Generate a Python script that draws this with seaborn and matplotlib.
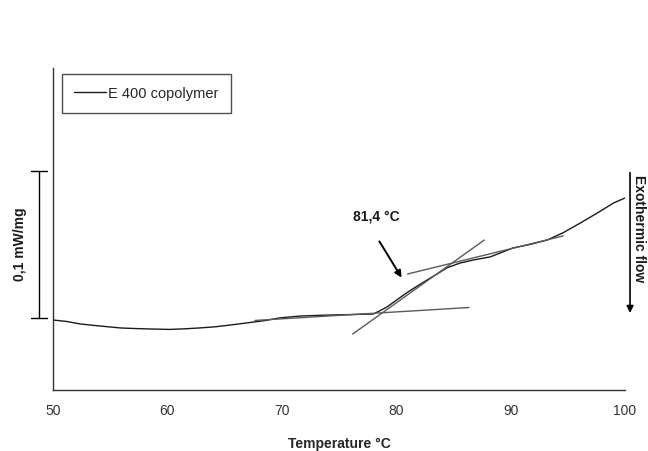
import numpy as np
import pandas as pd
import matplotlib
matplotlib.use("Agg")
import matplotlib.pyplot as plt
import seaborn as sns

# DSC trace of the E 400 copolymer (heat flow in mW/mg, arbitrary baseline)
temperature = [50.0, 51.2, 52.4, 54.0, 55.9, 57.2, 58.5, 60.2, 61.5, 62.8, 64.2,
               65.5, 67.2, 68.5, 69.8, 71.6, 73.0, 74.2, 76.0, 78.0, 78.6, 79.2,
               80.0, 80.9, 81.8, 82.7, 83.6, 84.4, 85.6, 86.8, 88.2, 89.2, 90.2,
               91.7, 93.2, 94.6, 96.1, 97.5, 99.0, 100.0]
heat_flow = [0.0476, 0.0466, 0.0449, 0.0436, 0.0422, 0.0418, 0.0415, 0.0412, 0.0416,
             0.0422, 0.0430, 0.0442, 0.0459, 0.0472, 0.0490, 0.0503, 0.0507, 0.0510,
             0.0513, 0.0517, 0.0540, 0.0565, 0.0610, 0.0660, 0.0705, 0.0748, 0.0790,
             0.0830, 0.0864, 0.0885, 0.0905, 0.0935, 0.0966, 0.0990, 0.1020, 0.1070,
             0.1136, 0.1200, 0.1272, 0.1306]

# Tangent construction lines (start / end points)
tangent_t = [[67.66, 86.36], [76.2, 87.7], [81.0, 94.6]]
tangent_q = [[0.0473, 0.0561], [0.0381, 0.1020], [0.0789, 0.1048]]

onset_label = "81,4 °C"
series_name = "E 400 copolymer"
scale_bar = 0.1  # mW/mg

df = pd.DataFrame({"Temperature": temperature, "Heat flow": heat_flow,
                   "Sample": series_name})

sns.set_theme(style="white")
plt.rcParams["font.family"] = ["Liberation Sans", "DejaVu Sans"]

fig = plt.figure(figsize=(6.48, 4.51), dpi=100)
ax = fig.add_axes([53 / 648, 1 - 390 / 451, 572 / 648, 322 / 451])

sns.lineplot(data=df, x="Temperature", y="Heat flow", hue="Sample",
             palette=["#1a1a1a"], linewidth=1.0, ax=ax, sort=False)

for ts, qs in zip(tangent_t, tangent_q):
    ax.plot(ts, qs, color="#5a5a5a", linewidth=1.0)

ax.set_xlim(50, 100)
ax.set_ylim(0, 0.219)
ax.set_xticks([50, 60, 70, 80, 90, 100])
ax.set_yticks([])
ax.tick_params(axis="x", direction="in", length=4, width=1, colors="#333333",
               labelsize=10, pad=10)
for side in ["top", "right"]:
    ax.spines[side].set_visible(False)
for side in ["left", "bottom"]:
    ax.spines[side].set_color("#333333")
    ax.spines[side].set_linewidth(1.0)

ax.set_xlabel("Temperature °C", fontsize=10, fontweight="bold", labelpad=14)
ax.set_ylabel("")

# onset annotation
ax.annotate("", xy=(80.6, 0.0748), xytext=(78.4, 0.1027),
            arrowprops=dict(arrowstyle="-|>", color="black", lw=1.4,
                            mutation_scale=10))
ax.text(78.3, 0.1177, onset_label, ha="center", va="center", fontsize=10,
        fontweight="bold", color="#1a1a1a")

# heat-flow scale bar on the left
bar_x, bar_lo = 48.78, 0.0490
ax.plot([bar_x, bar_x], [bar_lo, bar_lo + scale_bar], color="black", lw=1.0,
        clip_on=False)
for yv in (bar_lo, bar_lo + scale_bar):
    ax.plot([48.08, 49.48], [yv, yv], color="black", lw=1.0, clip_on=False)
ax.text(47.1, bar_lo + scale_bar / 2, "0,1 mW/mg", rotation=90, ha="center",
        va="center", fontsize=10, fontweight="bold", color="#1a1a1a")

# exothermic direction arrow on the right
ax.annotate("", xy=(100.44, 0.0505), xytext=(100.44, 0.1497),
            arrowprops=dict(arrowstyle="-|>", color="black", lw=1.2,
                            mutation_scale=10),
            annotation_clip=False)
ax.text(101.22, 0.1095, "Exothermic flow", rotation=-90, ha="center",
        va="center", fontsize=10, fontweight="bold", color="#1a1a1a")

leg = ax.legend(loc="upper left", bbox_to_anchor=(0.0157, 0.981), frameon=True,
                fancybox=False, edgecolor="#222222", fontsize=10.5,
                borderpad=0.85, handlelength=2.2, handletextpad=0.1,
                borderaxespad=0)
leg.get_frame().set_linewidth(1.0)

fig.savefig("out.png", dpi=100)
